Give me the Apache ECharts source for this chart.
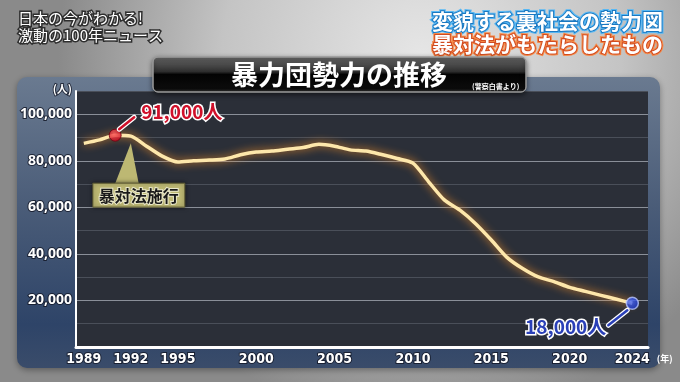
<!DOCTYPE html>
<html><head><meta charset="utf-8">
<script src="https://cdn.jsdelivr.net/npm/echarts@6/dist/echarts.min.js"></script>
<style>html,body{margin:0;padding:0;background:#b5b5b5}#c{width:680px;height:382px}</style>
</head><body><div id="c"></div>
<script>
const years = [1989,1990,1991,1992,1993,1994,1995,1996,1997,1998,1999,2000,2001,2002,2003,2004,2005,2006,2007,2008,2009,2010,2011,2012,2013,2014,2015,2016,2017,2018,2019,2020,2021,2022,2023,2024];
const members = [87500,89000,91000,90600,86300,82000,79500,80000,80300,80800,82600,83800,84200,85000,85700,87100,86300,84700,84200,82700,81000,79000,71000,63200,58800,53000,46000,38500,33700,30100,28100,25600,23900,22200,20500,18800];
const xLabelYears = [1989,1992,1995,2000,2005,2010,2015,2020,2024];
const peakPoint = [1991, 91000];
const peakLabel = '91,000人';
const latestPoint = [2024, 18800];
const latestLabel = '18,000人';
const enforcementPoint = [1992, 90600];
const enforcementLabel = '暴対法施行';
const chartTitle = '暴力団勢力の推移';
const sourceNote = '(警察白書より)';
const showTitle = ['日本の今がわかる!', '激動の100年ニュース'];
const headline = ['変貌する裏社会の勢力図', '暴対法がもたらしたもの'];
const yUnit = '(人)';
const xUnit = '(年)';

const CJK = '"Noto Sans CJK JP", "Noto Sans", sans-serif';
const chart = echarts.init(document.getElementById('c'), null, {renderer: 'canvas'});

function baseGraphics() {
  return [
    {id: 'bg', type: 'rect', z: -100, shape: {x: 0, y: 0, width: 680, height: 382},
      style: {fill: new echarts.graphic.RadialGradient(0.62, 0.15, 0.95, [
        {offset: 0, color: '#e6e6e6'}, {offset: 0.55, color: '#c4c4c4'}, {offset: 1, color: '#8a8a8a'}])}},
    {id: 'panel', type: 'rect', z: -90, shape: {x: 17, y: 77, width: 643, height: 291, r: 10},
      style: {fill: new echarts.graphic.LinearGradient(0, 0, 0, 1, [
        {offset: 0, color: '#6a7a90'}, {offset: 0.45, color: '#4a5c78'}, {offset: 0.85, color: '#2e4468'}, {offset: 1, color: '#3a4c6a'}]),
        shadowBlur: 6, shadowColor: 'rgba(0,0,0,0.35)', shadowOffsetY: 2}},
    {id: 'titlebar', type: 'rect', z: 100, shape: {x: 153, y: 57, width: 373, height: 35, r: 5},
      style: {fill: new echarts.graphic.LinearGradient(0, 0, 0, 1, [
        {offset: 0, color: '#6c6c6c'}, {offset: 0.42, color: '#2e2e2e'}, {offset: 0.5, color: '#030303'}, {offset: 0.9, color: '#0c0c0c'}, {offset: 1, color: '#3a3a3a'}]),
        stroke: '#9a9a9a', lineWidth: 1, shadowBlur: 5, shadowColor: 'rgba(0,0,0,0.5)', shadowOffsetY: 2}},
    {id: 'title', type: 'text', z: 101, style: {text: chartTitle, x: 339, y: 75, textAlign: 'center', textVerticalAlign: 'middle',
      font: 'bold 27px ' + CJK, fill: '#ffffff', shadowBlur: 3, shadowColor: 'rgba(0,0,0,0.8)'}},
    {id: 'source', type: 'text', z: 101, style: {text: sourceNote, x: 472, y: 86, textAlign: 'left', textVerticalAlign: 'middle',
      font: 'bold 7px ' + CJK, fill: '#ffffff'}},
    {id: 'show1', type: 'text', z: 50, style: {text: showTitle[0], x: 18, y: 18, textVerticalAlign: 'middle',
      font: '15px ' + CJK, fill: '#ffffff', stroke: '#2e2e2e', lineWidth: 3}},
    {id: 'show2', type: 'text', z: 50, style: {text: showTitle[1], x: 18, y: 35, textVerticalAlign: 'middle',
      font: '15px ' + CJK, fill: '#ffffff', stroke: '#2e2e2e', lineWidth: 3}},
    {id: 'head1g', type: 'text', z: 50, style: {text: headline[0], x: 663, y: 21, textAlign: 'right', textVerticalAlign: 'middle',
      font: 'bold 21px ' + CJK, fill: '#3aa0e8', stroke: '#58b8f4', lineWidth: 4, shadowBlur: 10, shadowColor: '#6cc4ff'}},
    {id: 'head1', type: 'text', z: 51, style: {text: headline[0], x: 663, y: 21, textAlign: 'right', textVerticalAlign: 'middle',
      font: 'bold 21px ' + CJK, fill: '#ffffff', stroke: '#1a78c0', lineWidth: 2}},
    {id: 'head2g', type: 'text', z: 50, style: {text: headline[1], x: 663, y: 44, textAlign: 'right', textVerticalAlign: 'middle',
      font: 'bold 21px ' + CJK, fill: '#f07038', stroke: '#f58a48', lineWidth: 4, shadowBlur: 10, shadowColor: '#ff8a40'}},
    {id: 'head2', type: 'text', z: 51, style: {text: headline[1], x: 663, y: 44, textAlign: 'right', textVerticalAlign: 'middle',
      font: 'bold 21px ' + CJK, fill: '#ffffff', stroke: '#d04a20', lineWidth: 2}}
  ];
}

const option = {
  animation: false,
  grid: {left: 76, right: 32, top: 91, bottom: 35, show: true, backgroundColor: '#2b2f38', borderWidth: 0},
  xAxis: {
    type: 'value', min: 1988.5, max: 2025,
    axisLine: {show: true, lineStyle: {color: '#ffffff', width: 3}},
    axisTick: {show: false},
    splitLine: {show: false},
    axisLabel: {customValues: xLabelYears, color: '#ffffff', fontSize: 14, fontWeight: 'bold', margin: 5,
      fontFamily: '"DejaVu Sans Condensed", "Liberation Sans Narrow", "Noto Sans", sans-serif',
      textBorderColor: 'rgba(20,25,40,0.85)', textBorderWidth: 2, formatter: v => String(v)},
    name: xUnit, nameLocation: 'end', nameGap: 2,
    nameTextStyle: {color: '#ffffff', fontSize: 9, fontWeight: 'bold', fontFamily: CJK, align: 'left', verticalAlign: 'top', padding: [7, 0, 0, 0]}
  },
  yAxis: {
    type: 'value', min: 0, max: 110000, interval: 10000,
    axisLine: {show: true, lineStyle: {color: '#ffffff', width: 2}},
    axisTick: {show: false},
    splitLine: {show: true, lineStyle: {color: ['#8a8f98', '#4a4f59'], width: 1}},
    axisLabel: {color: '#ffffff', fontSize: 14, fontWeight: 'bold', margin: 4, fontFamily: '"Noto Sans", sans-serif',
      textBorderColor: 'rgba(20,25,40,0.85)', textBorderWidth: 2,
      formatter: v => (v > 0 && v <= 100000 && v % 20000 === 0) ? v.toLocaleString('en-US') : ''},
    name: yUnit, nameLocation: 'end', nameGap: 2,
    nameTextStyle: {color: '#ffffff', fontSize: 11, fontWeight: 'bold', fontFamily: CJK, align: 'right', verticalAlign: 'middle', padding: [0, 4, 0, 0],
      textBorderColor: 'rgba(20,25,40,0.8)', textBorderWidth: 2}
  },
  series: [
    {type: 'line', data: years.map((y, i) => [y, members[i]]), symbol: 'none', smooth: 0.25, z: 3,
      lineStyle: {color: '#fde7ab', width: 3.5, shadowColor: 'rgba(235,140,40,1)', shadowBlur: 9}},
    {type: 'scatter', data: [peakPoint], symbolSize: 12, z: 5,
      itemStyle: {color: new echarts.graphic.RadialGradient(0.4, 0.35, 0.7, [{offset: 0, color: '#ff5a5a'}, {offset: 1, color: '#c8001a'}]),
        borderColor: '#6a0010', borderWidth: 1}},
    {type: 'scatter', data: [latestPoint], symbolSize: 12, z: 5,
      itemStyle: {color: new echarts.graphic.RadialGradient(0.4, 0.35, 0.7, [{offset: 0, color: '#4a6cff'}, {offset: 1, color: '#1a32c0'}]),
        borderColor: '#b8c6ff', borderWidth: 1.5}}
  ],
  graphic: baseGraphics()
};
chart.setOption(option);

const pk = chart.convertToPixel({gridIndex: 0}, peakPoint);
const lt = chart.convertToPixel({gridIndex: 0}, latestPoint);
const en = chart.convertToPixel({gridIndex: 0}, enforcementPoint);
const tip = [en[0], en[1] + 7];
const box = {x: tip[0] - 38, y: tip[1] + 40, w: 92, h: 24};

const annotations = [
  {id: 'pkLineW', type: 'line', z: 60, shape: {x1: pk[0] + 4, y1: pk[1] - 6, x2: pk[0] + 19, y2: pk[1] - 18},
    style: {stroke: '#ffffff', lineWidth: 5, lineCap: 'round'}},
  {id: 'pkLine', type: 'line', z: 61, shape: {x1: pk[0] + 4, y1: pk[1] - 6, x2: pk[0] + 19, y2: pk[1] - 18},
    style: {stroke: '#d0102a', lineWidth: 2.5, lineCap: 'round'}},
  {id: 'pkText', type: 'text', z: 62, style: {text: peakLabel, x: pk[0] + 26, y: pk[1] - 23, textAlign: 'left', textVerticalAlign: 'middle',
    font: 'bold 19px ' + CJK, fill: '#d0102a', stroke: '#ffffff', lineWidth: 3, shadowBlur: 3, shadowColor: 'rgba(0,0,0,0.6)'}},
  {id: 'ltLineW', type: 'line', z: 60, shape: {x1: lt[0] - 5, y1: lt[1] + 7, x2: lt[0] - 24, y2: lt[1] + 22},
    style: {stroke: '#ffffff', lineWidth: 5, lineCap: 'round'}},
  {id: 'ltLine', type: 'line', z: 61, shape: {x1: lt[0] - 5, y1: lt[1] + 7, x2: lt[0] - 24, y2: lt[1] + 22},
    style: {stroke: '#2a40b8', lineWidth: 2.5, lineCap: 'round'}},
  {id: 'ltText', type: 'text', z: 62, style: {text: latestLabel, x: lt[0] - 26, y: lt[1] + 24, textAlign: 'right', textVerticalAlign: 'middle',
    font: 'bold 19px ' + CJK, fill: '#2a40b8', stroke: '#ffffff', lineWidth: 3, shadowBlur: 3, shadowColor: 'rgba(0,0,0,0.6)'}},
  {id: 'enPtr', type: 'polygon', z: 55, shape: {points: [[tip[0], tip[1]], [box.x + 22, box.y + 1], [box.x + 46, box.y + 1]]},
    style: {fill: '#bdb873'}},
  {id: 'enBox', type: 'rect', z: 56, shape: {x: box.x, y: box.y, width: box.w, height: box.h},
    style: {fill: '#bdb873', stroke: '#5a5830', lineWidth: 1, shadowBlur: 4, shadowColor: 'rgba(0,0,0,0.5)'}},
  {id: 'enText', type: 'text', z: 57, style: {text: enforcementLabel, x: box.x + box.w / 2, y: box.y + box.h / 2 + 1, textAlign: 'center', textVerticalAlign: 'middle',
    font: 'bold 16px ' + CJK, fill: '#1a1a1a', stroke: '#e8e6c8', lineWidth: 2}}
];
chart.setOption({graphic: baseGraphics().concat(annotations)});
</script>
</body></html>
